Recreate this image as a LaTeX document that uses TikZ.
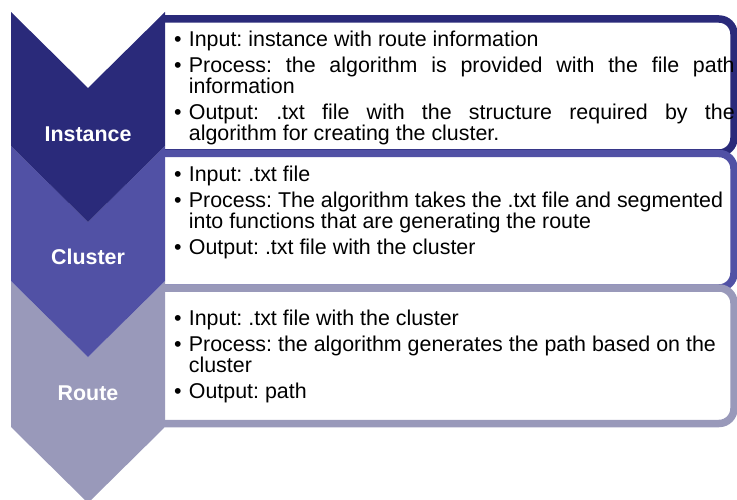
\documentclass[tikz,border=0pt]{standalone}
\usepackage{fontspec}
\setmainfont{Liberation Sans}
\definecolor{cA}{RGB}{42,42,122}
\definecolor{cB}{RGB}{81,81,165}
\definecolor{cC}{RGB}{153,153,186}
\newlength\bind
\setlength\bind{14.7pt}
\newcommand\bitem{\par\noindent\hangindent=\bind\hangafter=1\makebox[\bind][l]{•}}
\newcommand\txtsetup{\fontsize{21.4}{21}\selectfont\frenchspacing\hyphenpenalty=10000\exhyphenpenalty=10000\tolerance=10000\hbadness=10000\setlength\parskip{4.8pt}}
\tikzset{
  chev/.style={fill=#1, draw=none},
  infobox/.style={draw=#1, fill=white, line width=7.5pt, rounded corners=15pt},
  lbl/.style={text=white, font=\fontsize{21.4}{24}\selectfont\bfseries, inner sep=0pt, anchor=base},
  txt/.style={inner sep=0pt, anchor=base west, text=black}
}
\begin{document}
\begin{tikzpicture}[x=1pt,y=-1pt]
\path[use as bounding box] (0,0) rectangle (737,500);
\clip (0,0) rectangle (737,500);
% boxes
\path[infobox=cA] (165,19) -- (734,19) -- (734,153) -- (165,153);
\path[infobox=cB] (165,153.5) -- (734,153.5) -- (734,288) -- (165,288);
\path[infobox=cC] (165,288) -- (734,288) -- (734,423.5) -- (165,423.5);
% chevrons
\fill[chev=cC] (11,281) -- (88,357) -- (165,281) -- (165,427) -- (88,503) -- (11,427) -- cycle;
\fill[chev=cB] (11,146) -- (88,222) -- (165,146) -- (165,281) -- (88,357) -- (11,281) -- cycle;
\fill[chev=cA] (11,12) -- (88,88) -- (165,12) -- (165,146) -- (88,222) -- (11,146) -- cycle;
% labels
\node[lbl] (l1) at (88,141.5) {Instance};
\node[lbl] (l2) at (88,264.5) {Cluster};
\node[lbl] (l3) at (88,400) {Route};
% texts
\node[txt] (t1) at (174,46.7) {\parbox[t]{560.5pt}{\txtsetup
\bitem Input: instance with route information
\bitem Process: the algorithm is provided with the file path\linebreak information
\bitem Output: .txt file with the structure required by the\linebreak algorithm for creating the cluster.}};
\node[txt] (t2) at (174,181.7) {\parbox[t]{560.5pt}{\txtsetup\raggedright
\bitem Input: .txt file
\bitem Process: The algorithm takes the .txt file and segmented into functions that are generating the route
\bitem Output: .txt file with the cluster}};
\node[txt] (t3) at (174,325.7) {\parbox[t]{560.5pt}{\txtsetup\raggedright
\bitem Input: .txt file with the cluster
\bitem Process: the algorithm generates the path based on the cluster
\bitem Output: path}};
\end{tikzpicture}
\end{document}
